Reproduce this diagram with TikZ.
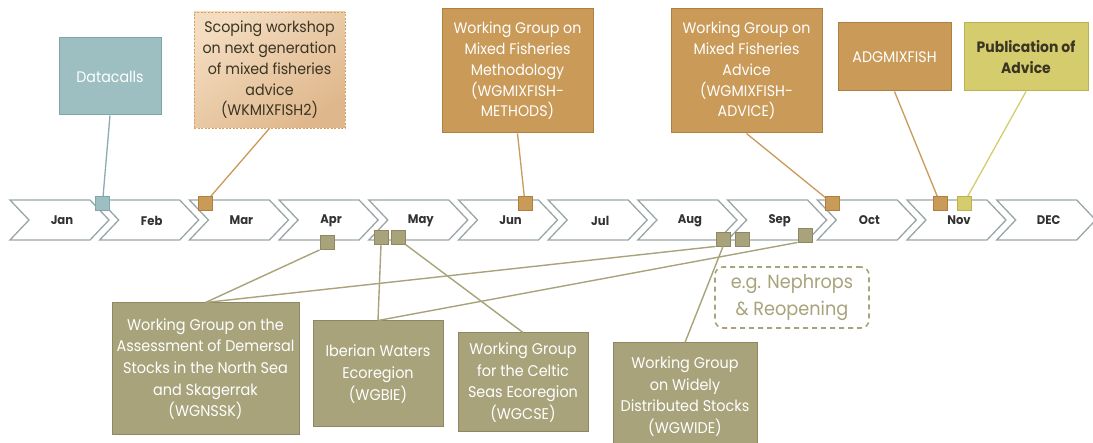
\documentclass[tikz,border=0pt]{standalone}
\usepackage{fontspec}
\setmainfont[FakeStretch=0.93]{Poppins}
\usetikzlibrary{backgrounds}
\definecolor{chevc}{HTML}{9AA6A6}
\definecolor{tealf}{HTML}{9DBFC1}
\definecolor{teald}{HTML}{7EA7A9}
\definecolor{peachA}{HTML}{F3DCC0}
\definecolor{peachB}{HTML}{DFB78C}
\definecolor{peachd}{HTML}{D9A05F}
\definecolor{orf}{HTML}{C99A58}
\definecolor{ord}{HTML}{AE803E}
\definecolor{yelf}{HTML}{D4CC6D}
\definecolor{yeld}{HTML}{BAB252}
\definecolor{olf}{HTML}{A8A37B}
\definecolor{old}{HTML}{8D8861}
\definecolor{darktxt}{HTML}{3A3422}
\definecolor{monthtxt}{HTML}{333333}
\tikzset{
  chev/.style={draw=chevc, line width=1.3pt, fill=white, line join=miter},
  mlabel/.style={font=\fontsize{12.5}{15}\selectfont\bfseries, text=monthtxt, inner sep=0pt},
  boxbase/.style={inner sep=0pt, align=center, font=\fontsize{15.3}{20.8}\selectfont},
  tealbox/.style={boxbase, fill=tealf, draw=teald, line width=1pt, text=white},
  peachbox/.style={boxbase, top color=peachA, bottom color=peachB, shading angle=35, draw=peachd, line width=0.7pt, dash pattern=on 2pt off 1.5pt, text=darktxt},
  orbox/.style={boxbase, fill=orf, draw=ord, line width=1pt, text=white},
  yelbox/.style={boxbase, fill=yelf, draw=yeld, line width=1pt, text=darktxt, font=\fontsize{15}{21}\selectfont\bfseries},
  olbox/.style={boxbase, fill=olf, draw=old, line width=1pt, text=white, font=\fontsize{15.5}{21.6}\selectfont},
  nephbox/.style={boxbase, draw=olf, line width=1.6pt, dash pattern=on 5pt off 4pt, rounded corners=8pt, text=olf, font=\fontsize{19}{27}\selectfont},
  sqbase/.style={minimum size=14pt, inner sep=0pt, line width=0.9pt},
  tealsq/.style={sqbase, fill=tealf, draw=teald},
  orsq/.style={sqbase, fill=orf, draw=ord},
  yelsq/.style={sqbase, fill=yelf, draw=yeld},
  olsq/.style={sqbase, fill=olf, draw=old},
  tline/.style={draw=tealf!90!black, line width=1.3pt},
  oline/.style={draw=orf, line width=1.3pt},
  yline/.style={draw=yelf, line width=1.3pt},
  lline/.style={draw=olf, line width=1.4pt},
}
\begin{document}
\begin{tikzpicture}[x=1pt, y=-1pt]
\begin{scope}[on background layer]
\fill[white] (0,0) rectangle (1093,443);
\end{scope}
\useasboundingbox (0,0) rectangle (1093,443);

% timeline chevrons
\foreach \m [count=\i from 0] in {Jan,Feb,Mar,Apr,May,Jun,Jul,Aug,Sep,Oct,Nov,DEC} {
  \pgfmathsetmacro\xo{10+89.7*\i}
  \draw[chev] (\xo,200) -- ++(80,0) -- ++(19,20) -- ++(-19,20) -- ++(-80,0) -- ++(19,-20) -- cycle;
  \node[mlabel] (m\i) at (\xo+52,220.5) {\m};
}

% top boxes
\node[tealbox, minimum width=102pt, minimum height=77pt] (data) at (110,76.5) {Datacalls};
\node[peachbox, minimum width=151pt, minimum height=116pt] (scop) at (269.5,70) {Scoping workshop\\on next generation\\of mixed fisheries\\advice\\(WKMIXFISH2)};
\node[orbox, minimum width=151pt, minimum height=124pt] (meth) at (517.5,71) {Working Group on\\Mixed Fisheries\\Methodology\\(WGMIXFISH-\\METHODS)};
\node[orbox, minimum width=151pt, minimum height=124pt] (adv) at (746.5,71) {Working Group on\\Mixed Fisheries\\Advice\\(WGMIXFISH-\\ADVICE)};
\node[orbox, minimum width=113pt, minimum height=68pt] (adg) at (894.5,57) {ADGMIXFISH};
\node[yelbox, minimum width=124pt, minimum height=68pt] (pub) at (1026,57) {Publication of\\Advice};

% bottom boxes
\node[olbox, minimum width=187pt, minimum height=132pt] (nssk) at (205.5,369) {Working Group on the\\Assessment of Demersal\\Stocks in the North Sea\\and Skagerrak\\(WGNSSK)};
\node[olbox, minimum width=130pt, minimum height=106pt] (bie) at (378,374) {Iberian Waters\\Ecoregion\\(WGBIE)};
\node[olbox, minimum width=130pt, minimum height=99pt] (cse) at (523,382.5) {Working Group\\for the Celtic\\Seas Ecoregion\\(WGCSE)};
\node[olbox, minimum width=144pt, minimum height=107pt] (wide) at (685,396.5) {Working Group\\on Widely\\Distributed Stocks\\(WGWIDE)};
\node[nephbox, minimum width=154pt, minimum height=61pt] (neph) at (792,297.5) {e.g. Nephrops\\\& Reopening};

% squares
\node[tealsq] (sjan) at (102.5,203) {};
\node[orsq] (smar) at (205,203) {};
\node[orsq] (sjun) at (525,203) {};
\node[orsq] (soct) at (832,203) {};
\node[orsq] (snov) at (940,203) {};
\node[yelsq] (spub) at (964,203) {};
\node[olsq] (sapr) at (327,242.5) {};
\node[olsq] (smay1) at (381,237) {};
\node[olsq] (smay2) at (398,237) {};
\node[olsq] (saug1) at (723,239) {};
\node[olsq] (saug2) at (742,239) {};
\node[olsq] (ssep) at (805,235) {};

% connectors
\begin{scope}[on background layer]
\draw[tline] (data.south) -- (sjan.center);
\draw[oline] (scop.south) -- (smar.center);
\draw[oline] (meth.south) -- (sjun.center);
\draw[oline] (adv.south) -- (soct.center);
\draw[oline] (adg.south) -- (snov.center);
\draw[yline] (pub.south) -- (spub.center);
\end{scope}
\draw[lline] (sapr.south west) -- (nssk.north);
\draw[lline] (saug1.south west) -- (nssk.north);
\draw[lline] (saug1.south) -- (wide.north);
\draw[lline] (smay1.south) -- (bie.north);
\draw[lline] (ssep.south west) -- (bie.north);
\draw[lline] (smay2.south east) -- (cse.north);
\end{tikzpicture}
\end{document}
